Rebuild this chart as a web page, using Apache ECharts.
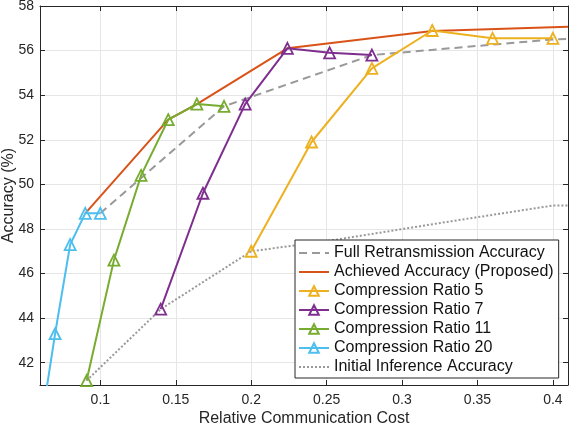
<!DOCTYPE html>
<html>
<head>
<meta charset="utf-8">
<script src="https://cdn.jsdelivr.net/npm/echarts@6/dist/echarts.min.js"></script>
<style>
html,body{margin:0;padding:0;background:#fff;}
#chart{width:570px;height:426px;}
</style>
</head>
<body>
<div id="chart"></div>
<script>
// ---- data ----
const xTicks = [0.1, 0.15, 0.2, 0.25, 0.3, 0.35, 0.4];
const yTicks = [42, 44, 46, 48, 50, 52, 54, 56, 58];
const fullRetransmission = [[0.1, 48.7], [0.182, 53.5], [0.28, 55.8], [0.4, 56.5], [0.41, 56.52]];
const achieved = [[0.09, 48.7], [0.145, 52.9], [0.164, 53.6], [0.224, 56.1], [0.32, 56.88], [0.41, 57.07]];
const cr5 = [[0.2, 47.0], [0.24, 51.9], [0.28, 55.2], [0.32, 56.9], [0.36, 56.55], [0.4, 56.55]];
const cr7 = [[0.14, 44.4], [0.168, 49.6], [0.196, 53.6], [0.224, 56.1], [0.252, 55.9], [0.28, 55.8]];
const cr11 = [[0.0909, 41.2], [0.109, 46.6], [0.127, 50.4], [0.145, 52.9], [0.164, 53.6], [0.182, 53.5]];
const cr20 = [[0.06, 38.9], [0.07, 43.3], [0.08, 47.3], [0.09, 48.7], [0.1, 48.7]];
const initialInference = [[0.0909, 41.2], [0.14, 44.4], [0.2, 47.0], [0.25, 47.45], [0.333, 48.35], [0.4, 49.05], [0.41, 49.05]];
const names = ['Full Retransmission Accuracy', 'Achieved Accuracy (Proposed)', 'Compression Ratio 5',
  'Compression Ratio 7', 'Compression Ratio 11', 'Compression Ratio 20', 'Initial Inference Accuracy'];

const FONT = "'Liberation Sans', Arial, Helvetica, sans-serif";
const AX = '#262626';
const GRIDC = '#e6e6e6';
const CLEAR = 'rgba(255,255,255,0)';

function markerSeries(name, data, color) {
  return {
    name: name, type: 'line', data: data, symbol: 'triangle', symbolSize: 11,
    showSymbol: true, clip: true,
    lineStyle: { color: color, width: 2 },
    itemStyle: { color: CLEAR, borderColor: color, borderWidth: 1.8 },
    emphasis: { disabled: true }
  };
}
function plainSeries(name, data, color, type) {
  return {
    name: name, type: 'line', data: data, symbol: 'circle', symbolSize: 0, showSymbol: false, clip: true,
    lineStyle: { color: color, width: 2, type: type },
    itemStyle: { color: CLEAR, borderColor: CLEAR, borderWidth: 0 },
    emphasis: { disabled: true }
  };
}

const chart = echarts.init(document.getElementById('chart'), null, { renderer: 'canvas' });
chart.setOption({
  animation: false,
  backgroundColor: '#fff',
  textStyle: { fontFamily: FONT },
  grid: { left: 40, right: 2, top: 6, bottom: 41, containLabel: false, outerBoundsMode: 'none' },
  legend: {
    orient: 'vertical', left: 295, top: 240,
    padding: [5, 5, 3, 3],
    itemWidth: 30, itemHeight: 12, itemGap: 3,
    backgroundColor: '#fff', borderColor: AX, borderWidth: 1, borderRadius: 0,
    textStyle: { fontSize: 16, color: '#111', fontFamily: FONT },
    data: names
  },
  xAxis: [
    {
      type: 'value', min: 0.06, max: 0.41, position: 'bottom',
      name: 'Relative Communication Cost', nameLocation: 'middle', nameGap: 26, nameMoveOverlap: false,
      nameTextStyle: { fontSize: 16, color: AX, fontFamily: FONT },
      axisLine: { show: true, onZero: false, lineStyle: { color: AX, width: 1 } },
      axisTick: { show: true, inside: true, length: 5, customValues: xTicks, lineStyle: { color: AX } },
      axisLabel: { customValues: xTicks, color: AX, fontSize: 14, margin: 8, fontFamily: FONT },
      splitLine: { show: true, lineStyle: { color: GRIDC, width: 1 } }
    },
    {
      type: 'value', min: 0.06, max: 0.41, position: 'top',
      axisLine: { show: true, onZero: false, lineStyle: { color: AX, width: 1 } },
      axisTick: { show: true, inside: true, length: 5, customValues: xTicks, lineStyle: { color: AX } },
      axisLabel: { show: false },
      splitLine: { show: false }
    }
  ],
  yAxis: [
    {
      type: 'value', min: 41, max: 58, position: 'left',
      name: 'Accuracy (%)', nameLocation: 'middle', nameGap: 23, nameMoveOverlap: false,
      nameTextStyle: { fontSize: 16, color: AX, fontFamily: FONT },
      axisLine: { show: true, onZero: false, lineStyle: { color: AX, width: 1 } },
      axisTick: { show: true, inside: true, length: 5, customValues: yTicks, lineStyle: { color: AX } },
      axisLabel: { customValues: yTicks, color: AX, fontSize: 14, margin: 6, fontFamily: FONT },
      splitLine: { show: true, lineStyle: { color: GRIDC, width: 1 } }
    },
    {
      type: 'value', min: 41, max: 58, position: 'right',
      axisLine: { show: true, onZero: false, lineStyle: { color: AX, width: 1 } },
      axisTick: { show: true, inside: true, length: 5, customValues: yTicks, lineStyle: { color: AX } },
      axisLabel: { show: false },
      splitLine: { show: false }
    }
  ],
  series: [
    plainSeries(names[0], fullRetransmission, '#999999', [8, 5]),
    plainSeries(names[1], achieved, '#D95319', 'solid'),
    markerSeries(names[2], cr5, '#EDB120'),
    markerSeries(names[3], cr7, '#7E2F8E'),
    markerSeries(names[4], cr11, '#77AC30'),
    markerSeries(names[5], cr20, '#4DBEEE'),
    plainSeries(names[6], initialInference, '#999999', [2, 2])
  ]
});
</script>
</body>
</html>
